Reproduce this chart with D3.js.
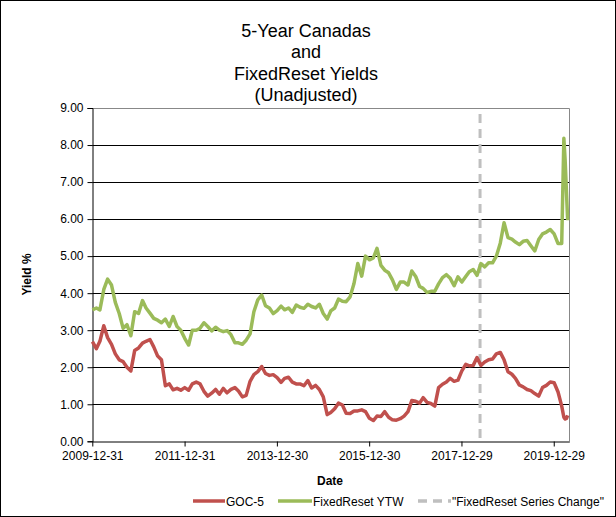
<!DOCTYPE html>
<html>
<head>
<meta charset="utf-8">
<script src="https://cdn.jsdelivr.net/npm/d3@7"></script>
<style>
  html, body { margin: 0; padding: 0; background: #fff; }
  svg { display: block; font-family: "Liberation Sans", Arial, sans-serif; }
</style>
</head>
<body>
<svg id="chart" width="616" height="517"></svg>
<script>
// ---------- DATA ----------
const titleLines = ["5-Year Canadas", "and", "FixedReset Yields", "(Unadjusted)"];
const seriesNames = ["GOC-5", "FixedReset YTW", "\"FixedReset Series Change\""];
const xTickLabels = ["2009-12-31", "2011-12-31", "2013-12-30", "2015-12-30", "2017-12-29", "2019-12-29"];
const yTickValues = [0, 1, 2, 3, 4, 5, 6, 7, 8, 9];
const xDomain = ["2009-12-31", "2020-04-30"];
const seriesChangeDate = "2018-05-25";

const dates = [
  "2010-01","2010-02","2010-03","2010-04","2010-05","2010-06","2010-07","2010-08","2010-09","2010-10","2010-11","2010-12",
  "2011-01","2011-02","2011-03","2011-04","2011-05","2011-06","2011-07","2011-08","2011-09","2011-10","2011-11","2011-12",
  "2012-01","2012-02","2012-03","2012-04","2012-05","2012-06","2012-07","2012-08","2012-09","2012-10","2012-11","2012-12",
  "2013-01","2013-02","2013-03","2013-04","2013-05","2013-06","2013-07","2013-08","2013-09","2013-10","2013-11","2013-12",
  "2014-01","2014-02","2014-03","2014-04","2014-05","2014-06","2014-07","2014-08","2014-09","2014-10","2014-11","2014-12",
  "2015-01","2015-02","2015-03","2015-04","2015-05","2015-06","2015-07","2015-08","2015-09","2015-10","2015-11","2015-12",
  "2016-01","2016-02","2016-03","2016-04","2016-05","2016-06","2016-07","2016-08","2016-09","2016-10","2016-11","2016-12",
  "2017-01","2017-02","2017-03","2017-04","2017-05","2017-06","2017-07","2017-08","2017-09","2017-10","2017-11","2017-12",
  "2018-01","2018-02","2018-03","2018-04","2018-05","2018-06","2018-07","2018-08","2018-09","2018-10","2018-11","2018-12",
  "2019-01","2019-02","2019-03","2019-04","2019-05","2019-06","2019-07","2019-08","2019-09","2019-10","2019-11","2019-12",
  "2020-01","2020-02","2020-03-01","2020-03-18","2020-03-28","2020-04-08","2020-04-17"
];

const goc5 = [
  2.69, 2.50, 2.70, 3.12, 2.80, 2.62, 2.36, 2.20, 2.15, 2.00, 1.90, 2.45,
  2.52, 2.65, 2.70, 2.75, 2.55, 2.30, 2.20, 1.50, 1.55, 1.39, 1.43, 1.38,
  1.45, 1.38, 1.55, 1.60, 1.55, 1.35, 1.22, 1.30, 1.40, 1.27, 1.43, 1.31,
  1.40, 1.45, 1.36, 1.20, 1.24, 1.62, 1.80, 1.88, 2.02, 1.83, 1.78, 1.80,
  1.72, 1.59, 1.70, 1.73, 1.60, 1.55, 1.55, 1.50, 1.64, 1.44, 1.51, 1.40,
  1.20, 0.72, 0.78, 0.88, 1.03, 0.98, 0.76, 0.75, 0.82, 0.82, 0.85, 0.80,
  0.62, 0.56, 0.68, 0.67, 0.80, 0.65, 0.58, 0.57, 0.61, 0.68, 0.80, 1.10,
  1.08, 1.03, 1.18, 1.05, 1.02, 0.95, 1.45, 1.54, 1.60, 1.70, 1.62, 1.65,
  1.90, 2.08, 2.04, 2.05, 2.26, 2.05, 2.14, 2.20, 2.22, 2.36, 2.40, 2.20,
  1.88, 1.81, 1.70, 1.52, 1.47, 1.40, 1.37, 1.29, 1.22, 1.45, 1.51, 1.60,
  1.58, 1.33, 0.95, 0.65, 0.60, 0.62, 0.70
];

const fixedResetYTW = [
  3.55, 3.60, 3.55, 4.10, 4.38, 4.22, 3.75, 3.45, 3.05, 3.15, 2.85, 3.50,
  3.45, 3.80, 3.60, 3.46, 3.32, 3.27, 3.20, 3.30, 3.10, 3.37, 3.10, 3.00,
  2.78, 2.60, 3.00, 3.00, 3.05, 3.20, 3.10, 2.98, 3.08, 3.00, 2.96, 2.99,
  2.88, 2.66, 2.66, 2.62, 2.73, 2.90, 3.50, 3.82, 3.95, 3.66, 3.60, 3.45,
  3.53, 3.65, 3.55, 3.60, 3.48, 3.68, 3.62, 3.59, 3.70, 3.64, 3.60, 3.70,
  3.45, 3.30, 3.52, 3.60, 3.84, 3.78, 3.77, 3.90, 4.26, 4.80, 4.46, 5.00,
  4.90, 4.95, 5.21, 4.75, 4.62, 4.55, 4.36, 4.10, 4.30, 4.30, 4.22, 4.60,
  4.45, 4.18, 4.13, 4.02, 4.05, 4.05, 4.25, 4.42, 4.50, 4.40, 4.20, 4.44,
  4.30, 4.45, 4.58, 4.64, 4.48, 4.80, 4.71, 4.82, 4.82, 5.00, 5.35, 5.90,
  5.50, 5.46, 5.38, 5.31, 5.40, 5.42, 5.28, 5.14, 5.45, 5.60, 5.65, 5.72,
  5.60, 5.34, 5.34, 8.18, 7.60, 6.70, 5.97
];

// ---------- LAYOUT ----------
const W = 616, H = 517;
const plot = { left: 92.3, right: 569.3, top: 108, bottom: 441.3 };
const colors = { goc: "#C0504D", fr: "#9BBB59", change: "#BFBFBF" };

const parseDay = d3.utcParse("%Y-%m-%d");
const parseMonth = d3.utcParse("%Y-%m");
const parseDate = s => s.length > 7 ? parseDay(s) : parseMonth(s);

const svg = d3.select("#chart");

svg.append("rect").attr("x", 0.5).attr("y", 0.5).attr("width", W - 1).attr("height", H - 1)
  .attr("fill", "#fff").attr("stroke", "#000").attr("stroke-width", 1);

const x = d3.scaleUtc().domain(xDomain.map(parseDate)).range([plot.left, plot.right]);
const y = d3.scaleLinear().domain([0, 9]).range([plot.bottom, plot.top]);

// Title
const title = svg.append("text").attr("text-anchor", "middle").attr("font-size", 18).attr("fill", "#000");
titleLines.forEach((t, i) => {
  title.append("tspan").attr("x", 306).attr("y", 37 + i * 21.4).text(t);
});

// Gridlines
svg.append("g").selectAll("line").data(yTickValues.filter(v => v > 0 && v < 9)).join("line")
  .attr("x1", plot.left).attr("x2", plot.right)
  .attr("y1", d => Math.round(y(d)) + 0.5).attr("y2", d => Math.round(y(d)) + 0.5)
  .attr("stroke", "#000").attr("stroke-width", 1);

// plot-area border (top/right gray)
svg.append("path")
  .attr("d", `M${plot.left},${Math.round(plot.top) + 0.5}H${Math.round(plot.right) + 0.5}V${plot.bottom}`)
  .attr("fill", "none").attr("stroke", "#888").attr("stroke-width", 1);

// Y axis
const yAxis = d3.axisLeft(y).tickValues(yTickValues).tickFormat(d3.format(".2f")).tickSize(5).tickPadding(4);
const gy = svg.append("g").attr("transform", `translate(${Math.round(plot.left) + 0.5},0)`).call(yAxis);
gy.select(".domain").attr("stroke", "#000");
gy.selectAll(".tick line").attr("stroke", "#000");
gy.selectAll(".tick text").attr("font-size", 12).attr("fill", "#000")
  .attr("font-family", "Liberation Sans, Arial, sans-serif");

// X axis
const xTicks = xTickLabels.map(parseDate);
const xAxis = d3.axisBottom(x).tickValues(xTicks).tickFormat(d3.utcFormat("%Y-%m-%d")).tickSize(5).tickPadding(5).tickSizeOuter(0);
const gx = svg.append("g").attr("transform", `translate(0,${Math.round(plot.bottom) + 0.5})`).call(xAxis);
gx.select(".domain").attr("stroke", "#000");
gx.selectAll(".tick line").attr("stroke", "#000");
gx.selectAll(".tick text").attr("font-size", 12).attr("fill", "#000")
  .attr("font-family", "Liberation Sans, Arial, sans-serif");

// Axis titles
svg.append("text").attr("x", 330).attr("y", 485).attr("text-anchor", "middle")
  .attr("font-size", 12).attr("font-weight", "bold").text("Date");
svg.append("text").attr("transform", "translate(31,274.5) rotate(-90)").attr("text-anchor", "middle")
  .attr("font-size", 12).attr("font-weight", "bold").text("Yield %");

// Series change dashed line
const cx = x(parseDate(seriesChangeDate));
svg.append("line").attr("x1", cx).attr("x2", cx).attr("y1", plot.top + 6).attr("y2", plot.bottom)
  .attr("stroke", colors.change).attr("stroke-width", 3).attr("stroke-dasharray", "9,6");

// Lines
const parsed = dates.map(parseDate);
const line = d3.line().x(d => x(d[0])).y(d => y(d[1]));
svg.append("path").datum(parsed.map((d, i) => [d, goc5[i]]))
  .attr("d", line).attr("fill", "none").attr("stroke", colors.goc)
  .attr("stroke-width", 3.5).attr("stroke-linejoin", "round");
svg.append("path").datum(parsed.map((d, i) => [d, fixedResetYTW[i]]))
  .attr("d", line).attr("fill", "none").attr("stroke", colors.fr)
  .attr("stroke-width", 3.5).attr("stroke-linejoin", "round");

// Legend
const legendY = 501;
const legendItems = [
  { name: seriesNames[0], color: colors.goc, x0: 193, x1: 225, dash: null },
  { name: seriesNames[1], color: colors.fr, x0: 278, x1: 312, dash: null },
  { name: seriesNames[2], color: colors.change, x0: 418, x1: 451, dash: "9,6" }
];
const lg = svg.append("g");
legendItems.forEach(it => {
  lg.append("line").attr("x1", it.x0).attr("x2", it.x1).attr("y1", legendY).attr("y2", legendY)
    .attr("stroke", it.color).attr("stroke-width", 3.5).attr("stroke-dasharray", it.dash);
  lg.append("text").attr("x", it.x1 + 1).attr("y", legendY + 4.5).attr("font-size", 12)
    .attr("fill", "#000").text(it.name);
});
</script>
</body>
</html>
